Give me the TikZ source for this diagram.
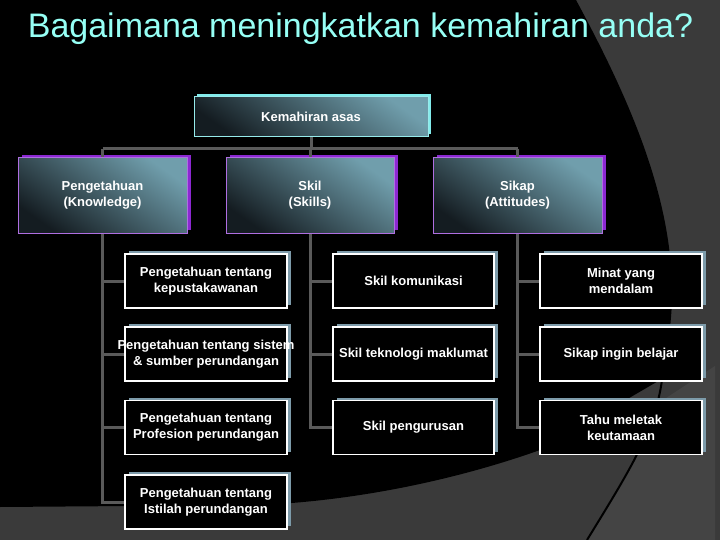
\documentclass[tikz,border=0pt]{standalone}
\usepackage{fontspec}
\setmainfont{Liberation Sans}
\usetikzlibrary{shadows,calc}
\definecolor{bggray}{RGB}{58,58,58}
\definecolor{bglight}{RGB}{68,68,68}
\definecolor{titlecyan}{RGB}{150,255,245}
\definecolor{purpshadow}{RGB}{140,40,210}
\definecolor{purpborder}{RGB}{175,110,225}
\definecolor{cyanshadow}{RGB}{130,235,235}
\definecolor{cyanborder}{RGB}{150,235,235}
\definecolor{childshadow}{RGB}{125,155,170}
\definecolor{gradlight}{RGB}{112,158,172}
\definecolor{graddark}{RGB}{20,28,33}
\definecolor{conncol}{RGB}{90,90,90}
\tikzset{
  boxtext/.style={font=\fontsize{13}{16}\selectfont\bfseries, text=white, align=center, inner sep=0pt},
  gradbox/.style={boxtext, rectangle, top color=gradlight, bottom color=graddark, shading angle=-35, line width=1pt},
  topbox/.style={gradbox, draw=cyanborder, minimum width=234pt, minimum height=40pt,
    drop shadow={shadow xshift=3pt, shadow yshift=3pt, fill=cyanshadow, opacity=1}},
  midbox/.style={gradbox, draw=purpborder, minimum width=169pt, minimum height=75pt,
    drop shadow={shadow xshift=4pt, shadow yshift=3pt, fill=purpshadow, opacity=1}},
  childbox/.style={boxtext, rectangle, fill=black, draw=white, line width=1.2pt, minimum width=162pt, minimum height=54pt,
    drop shadow={shadow xshift=4pt, shadow yshift=3pt, fill=childshadow, opacity=1}},
  conn/.style={draw=conncol, line width=3pt},
}
\begin{document}
\begin{tikzpicture}[x=1pt,y=-1pt]
\useasboundingbox (0,0) rectangle (720,540);
% background
\fill[bggray] (0,0) rectangle (720,540);
\fill[bglight] (660,402) -- (715,366) -- (715,540) -- (587,540)
  .. controls (630,470) and (652,430) .. (660,402) -- cycle;
\fill[black] (0,0) -- (576,0) .. controls (630,100) and (674,200) .. (672,300)
  .. controls (671,330) and (666,360) .. (660,380) -- (540,450)
  .. controls (470,475) and (370,500) .. (260,505) -- (0,507) -- cycle;
\draw[black, line width=2pt] (662,380) .. controls (655,430) and (630,470) .. (587,540);
% title
\node[anchor=base, text=titlecyan, font=\fontsize{34}{40}\selectfont, inner sep=0pt] (title) at (360.5,37.5) {Bagaimana meningkatkan kemahiran anda?};
% level 1
\node[topbox] (K) at (311,117) {Kemahiran asas};
% level 2
\node[midbox] (A) at (102.5,195.5) {Pengetahuan\\(Knowledge)};
\node[midbox, minimum width=168pt] (B) at (310,195.5) {Skil\\(Skills)};
\node[midbox] (C) at (517.5,195.5) {Sikap\\(Attitudes)};
% children
\node[childbox] (a1) at (206,281) {Pengetahuan tentang\\kepustakawanan};
\node[childbox] (a2) at (206,354) {\makebox[140pt]{Pengetahuan tentang sistem}\\\& sumber perundangan};
\node[childbox] (a3) at (206,427.5) {Pengetahuan tentang\\Profesion perundangan};
\node[childbox] (a4) at (206,502) {Pengetahuan tentang\\Istilah perundangan};
\node[childbox, minimum width=161pt] (b1) at (413.5,281) {Skil komunikasi};
\node[childbox, minimum width=161pt] (b2) at (413.5,354) {Skil teknologi maklumat};
\node[childbox, minimum width=161pt] (b3) at (413.5,427.5) {Skil pengurusan};
\node[childbox] (c1) at (621,281) {Minat yang\\mendalam};
\node[childbox] (c2) at (621,354) {Sikap ingin belajar};
\node[childbox] (c3) at (621,427.5) {Tahu meletak\\keutamaan};
% connectors
\coordinate (busL) at (102.5,149);
\coordinate (busR) at (517.5,149);
\draw[conn] (busL) -- (busR);
\draw[conn] (K.south) -- (K.south |- busL);
\draw[conn] (busL) -- (A.north);
\draw[conn] (B.north |- busL) -- (B.north);
\draw[conn] (busR) -- (C.north);
\draw[conn] (A.south) |- (a4.west);
\draw[conn] (A.south |- a1.west) -- (a1.west);
\draw[conn] (A.south |- a2.west) -- (a2.west);
\draw[conn] (A.south |- a3.west) -- (a3.west);
\draw[conn] (B.south) |- (b3.west);
\draw[conn] (B.south |- b1.west) -- (b1.west);
\draw[conn] (B.south |- b2.west) -- (b2.west);
\draw[conn] (C.south) |- (c3.west);
\draw[conn] (C.south |- c1.west) -- (c1.west);
\draw[conn] (C.south |- c2.west) -- (c2.west);
\end{tikzpicture}
\end{document}
